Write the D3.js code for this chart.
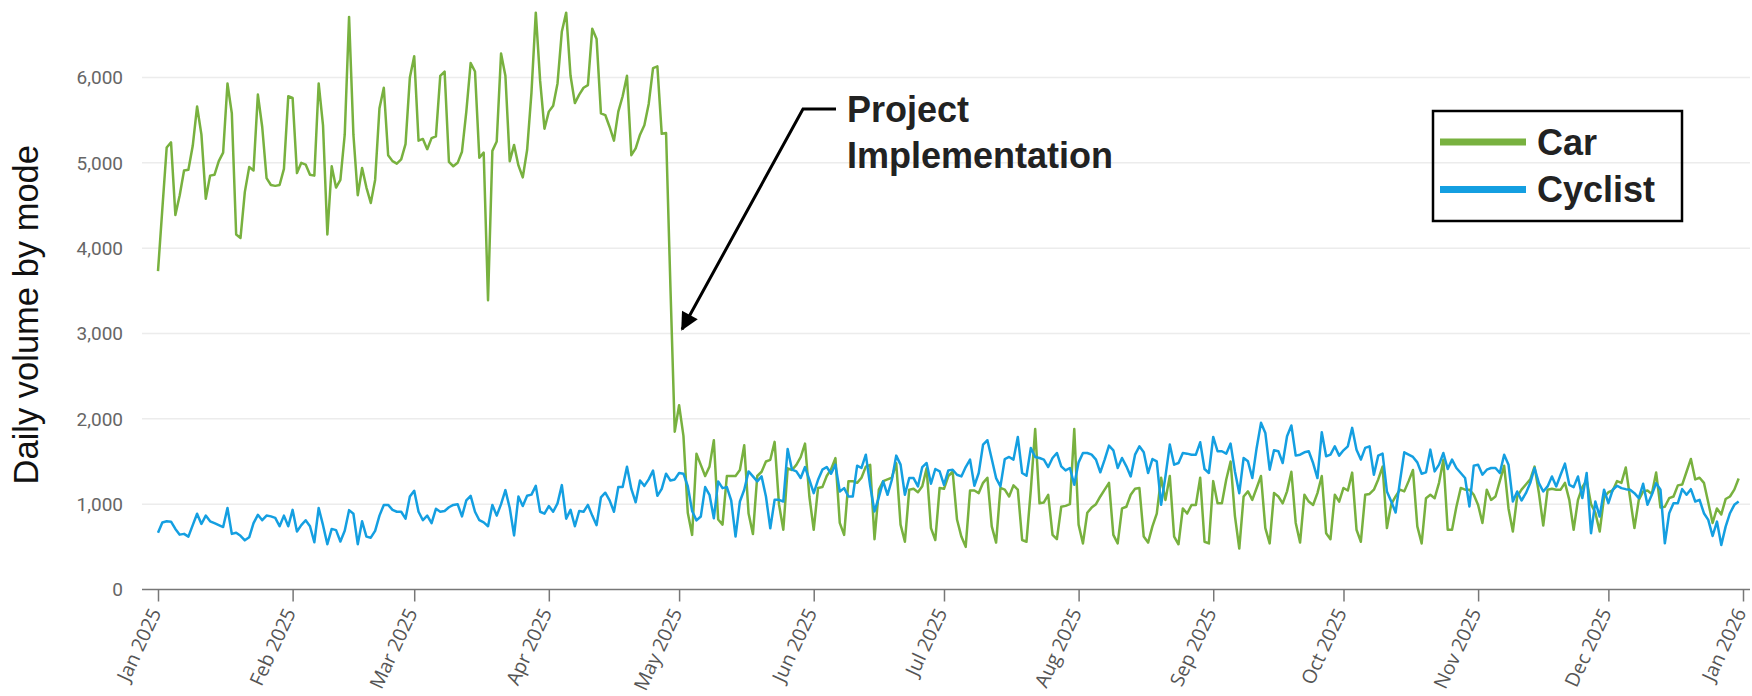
<!DOCTYPE html>
<html><head><meta charset="utf-8">
<script src="https://cdn.jsdelivr.net/npm/d3@7"></script>
<style>
html,body{margin:0;padding:0;background:#fff;}
svg{display:block;}
</style></head><body>
<svg id="chart" width="1752" height="696"></svg>
<script>
const startDate = "2025-01-01";
const seriesNames = ["Car", "Cyclist"];
const seriesColors = ["#78b13f", "#149fe1"];
const yTicks = [0, 1000, 2000, 3000, 4000, 5000, 6000];
const axisTitle = "Daily volume by mode";
const annotationLines = ["Project", "Implementation"];
const annotationDate = "2025-05-01";
const annotationValue = 3050;

const car = [
3730,4460,5180,5240,4390,4620,4910,4920,5200,5660,
5330,4580,4850,4860,5020,5120,5930,5580,4160,4120,
4660,4950,4910,5800,5420,4820,4740,4730,4740,4930,
5780,5760,4880,5000,4980,4860,4850,5930,5440,4160,
4960,4710,4800,5330,6710,5330,4620,4940,4710,4530,
4800,5640,5880,5090,5020,4990,5040,5220,6000,6250,
5260,5280,5160,5290,5310,6020,6070,5010,4960,5000,
5130,5600,6170,6070,5060,5120,3390,5140,5250,6280,
6020,5020,5210,4970,4830,5150,5820,6760,5960,5400,
5600,5670,5930,6540,6760,6020,5700,5800,5880,5910,
6570,6450,5580,5560,5420,5260,5600,5780,6020,5090,
5170,5330,5440,5690,6110,6130,5340,5350,3550,1850,
2160,1800,900,640,1590,1460,1330,1440,1750,820,
760,1330,1330,1330,1400,1690,890,650,1330,1380,
1500,1520,1730,1000,700,1420,1400,1460,1550,1710,
1090,700,1190,1200,1330,1410,1540,780,640,1270,
1270,1250,1310,1440,1460,590,1170,1270,1290,1310,
1480,760,560,1170,1180,1140,1210,1420,720,580,
1190,1180,1330,1380,820,620,500,1160,1160,1130,
1250,1310,740,550,1190,1170,1090,1220,1170,580,
560,1170,1880,1010,1020,1110,640,590,970,980,
1000,1880,760,540,900,960,1000,1090,1170,1250,
640,540,950,970,1110,1180,1190,620,550,740,
890,1310,1050,1330,620,530,950,890,990,990,
1310,560,540,1270,1010,1010,1290,1500,860,480,
1090,1150,1050,1190,1330,720,540,1130,1090,1010,
1150,1380,780,550,1110,1030,990,1130,1330,660,
590,1110,1030,1190,1160,1370,700,560,1110,1120,
1170,1290,1440,720,1000,1090,1170,1150,1270,1400,
740,540,1070,1110,1070,1250,1520,700,700,970,
1190,1170,1170,1110,990,780,1170,1050,1090,1270,
1450,950,680,1090,1170,1230,1290,1440,1130,750,
1170,1180,1170,1170,1250,1050,700,1050,1200,1280,
1000,900,680,1080,1140,1160,1270,1250,1430,1070,
720,1050,1150,1160,1120,1370,960,970,1070,1090,
1220,1230,1380,1530,1290,1310,1250,1020,780,950,
880,1060,1090,1170,1300
];

const cyclist = [
665,786,799,795,710,643,652,620,754,888,
768,866,799,777,754,732,955,652,665,629,
576,612,777,875,812,866,857,839,741,866,
741,933,679,754,812,741,554,955,754,531,
710,696,562,688,930,888,531,799,620,607,
688,866,991,991,933,911,911,830,1089,1156,
911,812,866,777,946,911,920,964,991,1000,
857,1045,1098,911,812,786,741,991,866,1000,
1165,955,634,1089,978,1098,1112,1214,911,888,
978,911,1009,1223,830,933,741,920,911,991,
866,754,1080,1134,1045,911,1201,1201,1438,1179,
1022,1277,1214,1290,1393,1098,1179,1357,1277,1290,
1366,1357,1210,920,810,855,1200,1110,835,1267,
1188,1200,1043,620,1031,1169,1384,1325,1267,1325,
1090,718,1051,1051,1031,1647,1404,1384,1306,1435,
1286,1129,1286,1404,1435,1357,1463,1149,1188,1090,
1090,1451,1424,1580,1216,914,1082,1267,1110,1286,
1569,1463,1110,1306,1306,1208,1435,1482,1239,1412,
1384,1227,1396,1404,1345,1325,1435,1522,1216,1365,
1698,1749,1529,1306,1208,1529,1553,1522,1788,1365,
1333,1659,1553,1541,1522,1435,1541,1600,1443,1396,
1424,1227,1490,1600,1600,1580,1522,1373,1522,1686,
1631,1424,1541,1443,1325,1580,1678,1608,1365,1529,
1502,992,1325,1698,1463,1482,1600,1592,1580,1580,
1725,1412,1365,1788,1620,1620,1592,1710,1384,1129,
1541,1502,1306,1659,1953,1835,1404,1631,1620,1482,
1796,1922,1569,1580,1608,1620,1482,1306,1843,1561,
1580,1678,1569,1631,1678,1894,1639,1522,1659,1678,
1345,1569,1592,1149,1031,902,1267,1608,1580,1553,
1490,1357,1373,1639,1384,1463,1600,1412,1522,1424,
1365,1306,973,1451,1463,1345,1404,1424,1424,1365,
1580,1463,1031,1149,1043,1129,1247,1424,1247,1149,
1208,1325,1208,1345,1475,1227,1200,1325,1071,1365,
659,1031,855,1169,1012,1169,1216,1188,1176,1169,
1129,1071,1239,992,1110,1247,1169,541,894,1012,
1012,1176,1110,1176,1031,1051,894,816,627,796,
522,737,894,992,1031
];

const series = [car, cyclist];
const svg = d3.select("#chart");
const parse = d3.utcParse("%Y-%m-%d");
const start = parse(startDate);
const dates = car.map((_, i) => d3.utcDay.offset(start, i));

const x = d3.scaleUtc().domain([start, d3.utcYear.offset(start, 1)]).range([158, 1743]);
const y = d3.scaleLinear().domain([0, 6000]).range([589.5, 77.5]);

// gridlines
svg.append("g").selectAll("line").data(yTicks.filter(d => d > 0)).join("line")
  .attr("x1", 142).attr("x2", 1750)
  .attr("y1", d => y(d)).attr("y2", d => y(d))
  .attr("stroke", "#ececec").attr("stroke-width", 1.5);

// y tick labels
svg.append("g").selectAll("text").data(yTicks).join("text")
  .attr("x", 123).attr("y", d => y(d)).attr("dy", "0.36em")
  .attr("text-anchor", "end")
  .attr("font-family", "Roboto, sans-serif").attr("font-size", 19)
  .attr("fill", "#666").text(d3.format(","));

// x axis
const xAxis = d3.axisBottom(x)
  .ticks(d3.utcMonth.every(1))
  .tickFormat(d3.utcFormat("%b %Y"))
  .tickSize(12).tickSizeOuter(0);
const gx = svg.append("g").attr("transform", `translate(0,${y(0)})`).call(xAxis);
gx.select(".domain").remove();
gx.append("line").attr("x1", 142).attr("x2", 1750).attr("y1", 0).attr("y2", 0)
  .attr("stroke", "#777").attr("stroke-width", 1.5);
gx.selectAll(".tick line").attr("stroke", "#777").attr("stroke-width", 1.5);
gx.selectAll(".tick text")
  .attr("x", null).attr("y", null).attr("dy", "0.35em")
  .attr("transform", "translate(-3,20) rotate(-65)")
  .attr("text-anchor", "end")
  .attr("font-family", "'Open Sans', sans-serif").attr("font-size", 19.5)
  .attr("fill", "#555");

// axis title
svg.append("text")
  .attr("transform", `translate(38,${(y(0) + 40) / 2}) rotate(-90)`)
  .attr("text-anchor", "middle")
  .attr("font-family", "'Liberation Sans', Arial, sans-serif")
  .attr("font-size", 34.5).attr("fill", "#111")
  .text(axisTitle);

// lines
const line = d3.line().x((d, i) => x(dates[i])).y(d => y(d)).curve(d3.curveLinear);
svg.append("g").selectAll("path").data(series).join("path")
  .attr("d", line)
  .attr("fill", "none")
  .attr("stroke", (d, i) => seriesColors[i])
  .attr("stroke-width", 2.5)
  .attr("stroke-linejoin", "round");

// legend
const lg = svg.append("g");
lg.append("rect").attr("x", 1433).attr("y", 111).attr("width", 249).attr("height", 110)
  .attr("fill", "none").attr("stroke", "#000").attr("stroke-width", 2.5);
const lgItems = lg.selectAll("g.item").data(seriesNames).join("g").attr("class", "item")
  .attr("transform", (d, i) => `translate(0,${142 + i * 47.5})`);
lgItems.append("line").attr("x1", 1440).attr("x2", 1526).attr("y1", 0).attr("y2", 0)
  .attr("stroke", (d, i) => seriesColors[i]).attr("stroke-width", 7);
lgItems.append("text").attr("x", 1537).attr("y", 0).attr("dy", "0.36em")
  .attr("font-family", "'Liberation Sans', Arial, sans-serif").attr("font-weight", "bold")
  .attr("font-size", 36).attr("fill", "#222").text(d => d);

// annotation
const defs = svg.append("defs");
defs.append("marker").attr("id", "ah").attr("viewBox", "0 -5 10 10")
  .attr("refX", 9).attr("refY", 0).attr("markerUnits", "userSpaceOnUse")
  .attr("markerWidth", 22).attr("markerHeight", 18).attr("orient", "auto")
  .append("path").attr("d", "M0,-5L10,0L0,5Z").attr("fill", "#000");
const tip = [x(parse(annotationDate)) + 3, y(annotationValue)];
svg.append("path")
  .attr("d", `M836,109H803L${tip[0]},${tip[1]}`)
  .attr("fill", "none").attr("stroke", "#000").attr("stroke-width", 3)
  .attr("marker-end", "url(#ah)");
svg.append("g").selectAll("text").data(annotationLines).join("text")
  .attr("x", 847).attr("y", (d, i) => 121.5 + i * 46.5)
  .attr("font-family", "'Liberation Sans', Arial, sans-serif").attr("font-weight", "bold")
  .attr("font-size", 36).attr("fill", "#222").text(d => d);
</script>
</body></html>
